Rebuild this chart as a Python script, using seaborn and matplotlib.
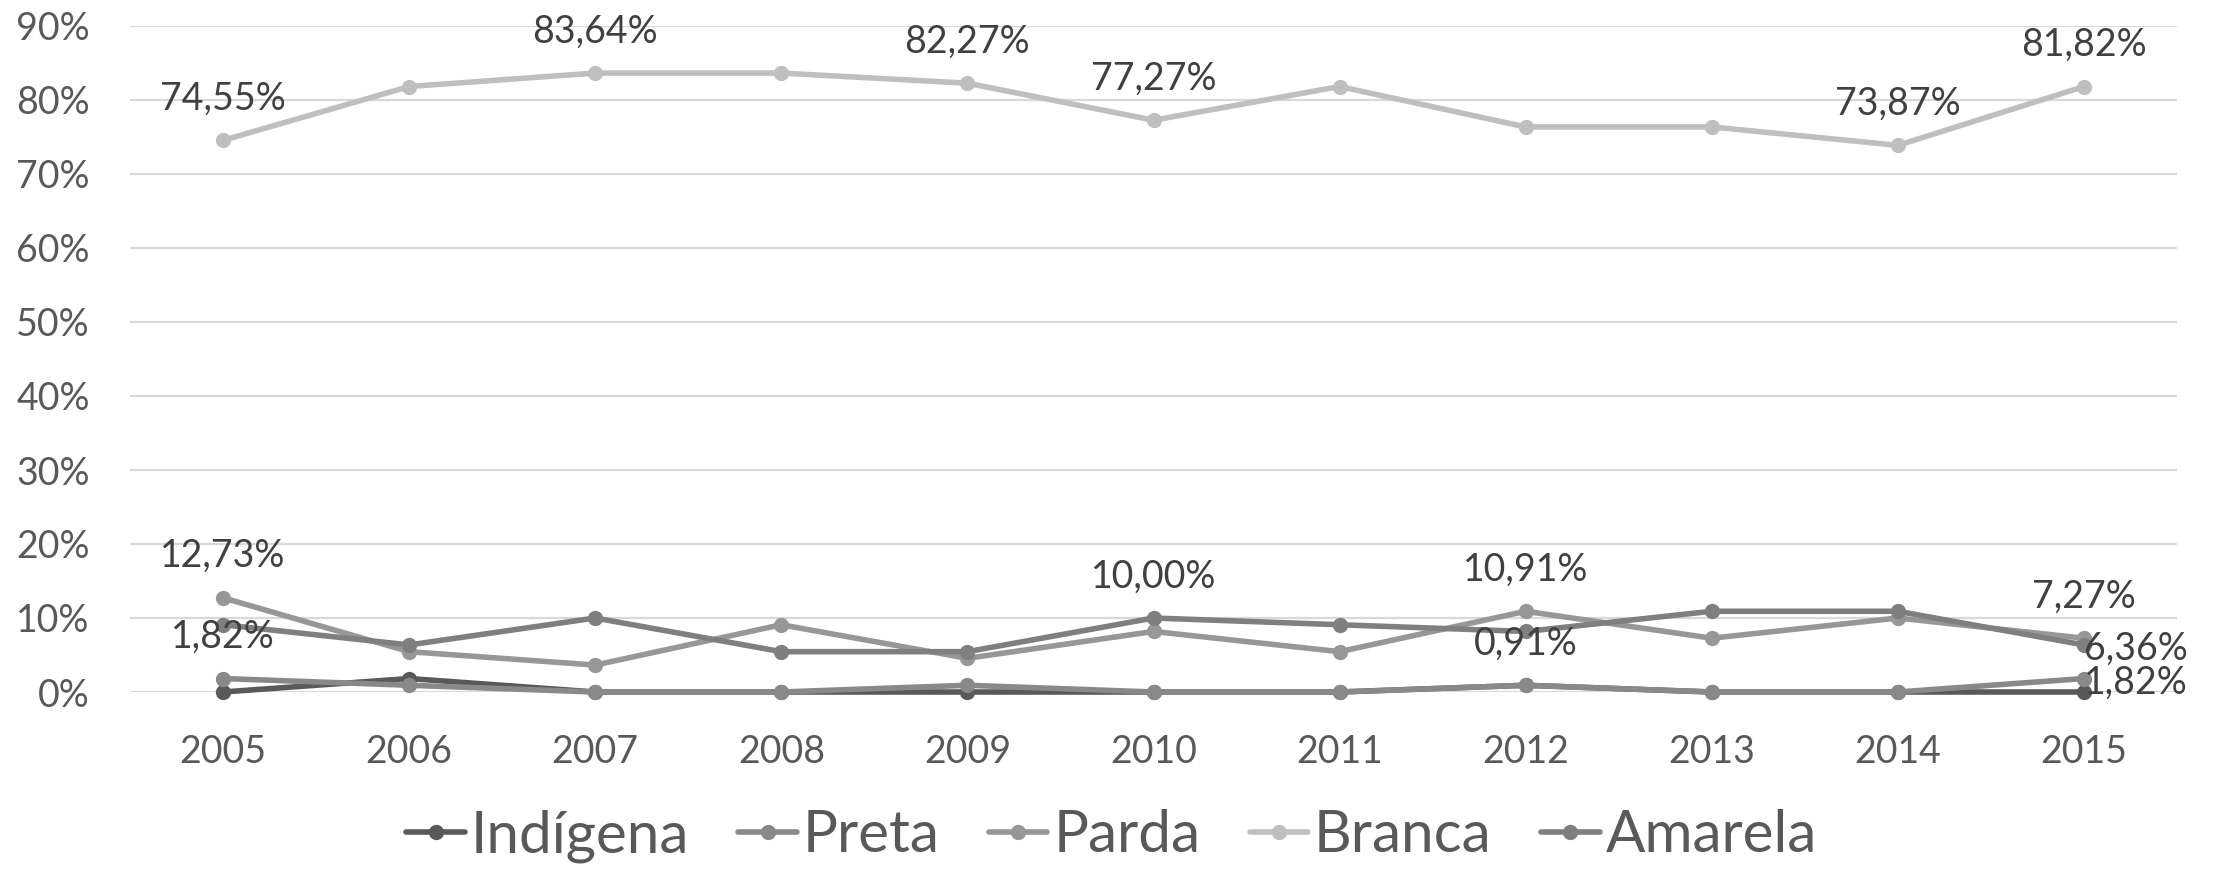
import matplotlib
matplotlib.use("Agg")
import matplotlib.pyplot as plt
import seaborn as sns
import pandas as pd

anos = [2005, 2006, 2007, 2008, 2009, 2010, 2011, 2012, 2013, 2014, 2015]
grupos = ["Indígena", "Preta", "Parda", "Branca", "Amarela"]
indigena = [0.00, 1.82, 0.00, 0.00, 0.00, 0.00, 0.00, 0.91, 0.00, 0.00, 0.00]
preta = [1.82, 0.91, 0.00, 0.00, 0.91, 0.00, 0.00, 0.91, 0.00, 0.00, 1.82]
parda = [12.73, 5.45, 3.64, 9.09, 4.55, 8.18, 5.45, 10.91, 7.27, 10.00, 7.27]
branca = [74.55, 81.82, 83.64, 83.64, 82.27, 77.27, 81.82, 76.36, 76.36, 73.87, 81.82]
amarela = [9.09, 6.36, 10.00, 5.45, 5.45, 10.00, 9.09, 8.18, 10.91, 10.91, 6.36]
y_ticks = [0, 10, 20, 30, 40, 50, 60, 70, 80, 90]

# data labels: (grupo, ano)
rotulos_acima = [("Branca", 2005), ("Branca", 2007), ("Branca", 2009), ("Branca", 2010),
                 ("Branca", 2014), ("Branca", 2015), ("Parda", 2005), ("Preta", 2005),
                 ("Amarela", 2010), ("Parda", 2012), ("Preta", 2012), ("Parda", 2015)]
rotulos_direita = [("Amarela", 2015), ("Preta", 2015)]

valores = {"Indígena": indigena, "Preta": preta, "Parda": parda,
           "Branca": branca, "Amarela": amarela}
cores = {"Indígena": "#595959", "Preta": "#898989", "Parda": "#979797",
         "Branca": "#bfbfbf", "Amarela": "#7f7f7f"}

df = pd.DataFrame([{"Ano": a, "Grupo": g, "Valor": v}
                   for g in grupos for a, v in zip(anos, valores[g])])

sns.set_theme(style="white")
plt.rcParams["font.family"] = ["Lato", "DejaVu Sans"]

fig = plt.figure(figsize=(22.23, 8.71), dpi=100)
ax = fig.add_axes([130 / 2223, 1 - 692 / 871, (2177 - 130) / 2223, (692 - 26) / 871])

sns.lineplot(data=df, x="Ano", y="Valor", hue="Grupo", hue_order=grupos,
             palette=cores, marker="o", markersize=11, markeredgewidth=0,
             linewidth=4.0, ax=ax, legend=True)
for ln in ax.lines:
    ln.set_clip_on(False)

ax.set_xlim(anos[0] - 0.5, anos[-1] + 0.5)
ax.set_ylim(0, 90)
ax.set_xticks(anos)
ax.set_xticklabels([str(a) for a in anos])
ax.set_yticks(y_ticks)
ax.set_yticklabels([f"{t}%" for t in y_ticks])
ax.tick_params(axis="both", length=0, labelsize=27, labelcolor="#595959")
ax.tick_params(axis="y", pad=29)
ax.tick_params(axis="x", pad=30)
ax.yaxis.grid(True, color="#d9d9d9", linewidth=1.6)
ax.xaxis.grid(False)
ax.set_axisbelow(True)
for s in ax.spines.values():
    s.set_visible(False)
ax.set_xlabel("")
ax.set_ylabel("")

def fmt(v):
    return f"{v:.2f}%".replace(".", ",")

for g, a in rotulos_acima:
    v = valores[g][anos.index(a)]
    ax.annotate(fmt(v), (a, v), xytext=(0, 30), textcoords="offset points",
                ha="center", va="center", fontsize=27, color="#404040")
for g, a in rotulos_direita:
    v = valores[g][anos.index(a)]
    ax.annotate(fmt(v), (a, v), xytext=(0, -3), textcoords="offset points",
                ha="left", va="center", fontsize=27, color="#404040")

handles, labels = ax.get_legend_handles_labels()
ax.get_legend().remove()
leg = fig.legend(handles, labels, loc="center", bbox_to_anchor=(0.5, 1 - 836 / 871),
                 ncol=5, frameon=False, fontsize=42, labelcolor="#595959",
                 handlelength=1.0, handletextpad=0.1, columnspacing=0.85)
for h in leg.legend_handles:
    h.set_linewidth(4.0)
    h.set_markersize(11)

fig.savefig("out.png", dpi=100)
